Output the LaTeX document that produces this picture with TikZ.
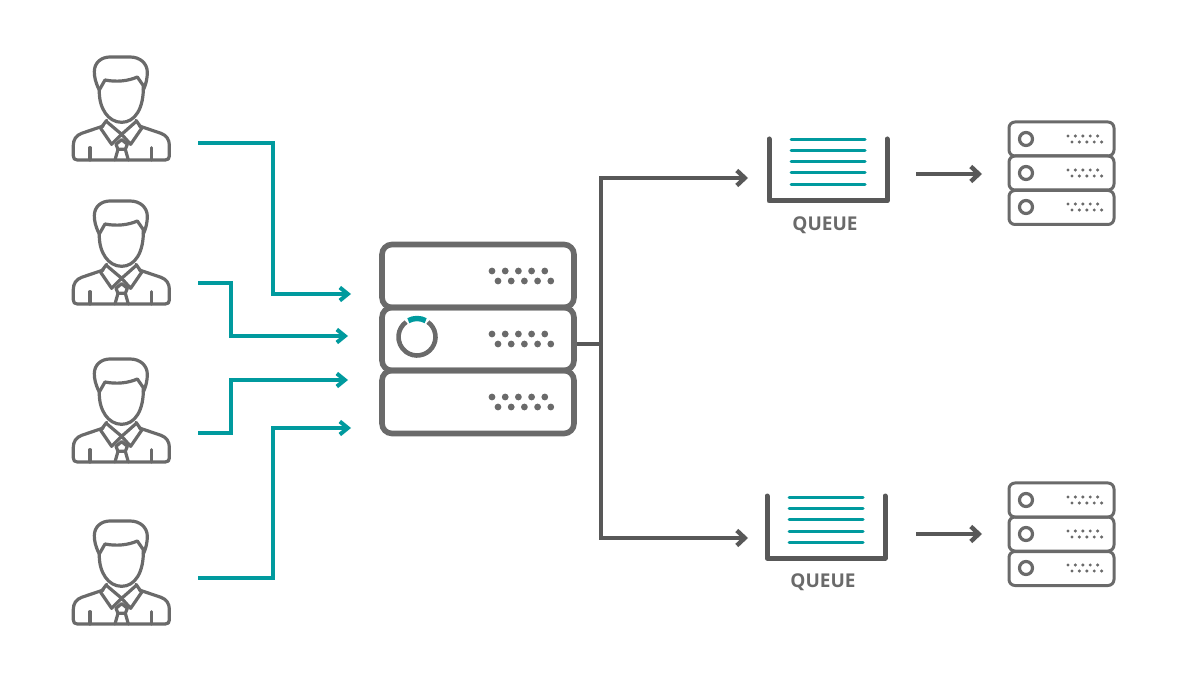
\documentclass[tikz,border=0pt]{standalone}
\usepackage{fontspec}
\setmainfont{Open Sans}
\usetikzlibrary{arrows.meta}
\definecolor{tealline}{HTML}{009A9E}
\definecolor{iconline}{HTML}{6A6A6A}
\definecolor{darkline}{HTML}{585858}
\tikzset{
  flowteal/.style={draw=tealline, line width=4pt, -{Straight Barb[length=8pt,width=13pt,line width=4pt]}},
  flowdark/.style={draw=darkline, line width=4.4pt, -{Straight Barb[length=8pt,width=15pt,line width=4.4pt]}},
  bigrow/.style={draw=iconline, line width=5.6pt, rounded corners=10pt, minimum width=192pt, minimum height=63pt, outer sep=0pt, inner sep=0pt},
  smallrow/.style={draw=iconline, line width=3pt, rounded corners=6pt, minimum width=105pt, minimum height=34pt, outer sep=0pt, inner sep=0pt},
  queuewall/.style={draw=darkline, line width=5pt, line cap=round, line join=round},
  queueitem/.style={draw=tealline, line width=3pt, line cap=round},
  queuetext/.style={text=iconline, font=\bfseries\fontsize{19}{22}\selectfont, inner sep=0pt},
  iconstroke/.style={draw=iconline, line width=3.2pt, line cap=round, line join=round}
}
% one person, drawn in a 3x grid
\newcommand{\personicon}[2]{
\begin{scope}[shift={(#1,#2)}, x=0.3333pt, y=-0.3333pt, iconstroke]
\draw (118,135) .. controls (106,112) and (103,95) .. (103,80) .. controls (103,52) and (125,36) .. (150,36) -- (210,36) .. controls (240,36) and (262,55) .. (262,82) .. controls (262,100) and (258,118) .. (250,135);
\draw (118,135) -- (135,105) .. controls (170,112) and (205,108) .. (232,96) -- (250,122) .. controls (252,190) and (225,232) .. (185,232) .. controls (145,232) and (116,190) .. (118,135);
\draw (130,243) -- (65,265) .. controls (48,271) and (40,285) .. (40,300) -- (40,333) .. controls (40,341) and (44,345) .. (52,345) -- (316,345) .. controls (324,345) and (328,341) .. (328,333) -- (328,300) .. controls (328,285) and (320,271) .. (303,265) -- (238,243);
\draw (140,226) -- (122,250) -- (155,298) -- (185,268) -- (212,298) -- (245,250) -- (228,226);
\draw (140,230) -- (185,268) -- (228,230);
\draw (168,298) -- (185,284) -- (202,298) -- (196,313) -- (174,313) -- cycle;
\draw (174,313) -- (165,345);
\draw (196,313) -- (205,345);
\draw (90,308) -- (90,345);
\draw (275,308) -- (275,345);
\end{scope}
}
% two staggered rows of dots
\newcommand{\bigdots}[1]{
\foreach \k in {0,1,2,3,4} {
  \fill[iconline] (492+13.2*\k,#1) circle (3.4pt);
  \fill[iconline] (498+13.2*\k,#1+10) circle (3.4pt);
}
}
\newcommand{\smalldots}[1]{
\foreach \k in {0,1,2,3,4} {
  \fill[iconline] (1068+7.4*\k,#1-3) circle (1.7pt);
  \fill[iconline] (1072+7.4*\k,#1+3) circle (1.7pt);
}
\draw[iconline, line width=3.2pt] (1026,#1) circle (6.5pt);
}
\begin{document}
\begin{tikzpicture}[x=1pt, y=-1pt]
\useasboundingbox (0,0) rectangle (1200,700);
\personicon{60}{45}
\personicon{60}{189}
\personicon{60}{347}
\personicon{60}{509}
% central server
\node[bigrow] (SrvA) at (478,276) {};
\node[bigrow] (SrvC) at (478,402) {};
\node[bigrow] (SrvB) at (478,339) {};
\bigdots{271}
\bigdots{334}
\bigdots{397}
\draw[iconline, line width=4.6pt] (417,337) ++(-54:18.5) arc (-54:234:18.5);
\draw[tealline, line width=5.4pt] (417,337) ++(-118:18.5) arc (-118:-62:18.5);
% incoming
\coordinate (InA) at (198,143);
\coordinate (InB) at (198,283);
\coordinate (InC) at (198,433);
\coordinate (InD) at (198,578);
\coordinate (ToA) at (351,294);
\coordinate (ToB) at (348,336);
\coordinate (ToC) at (348,380);
\coordinate (ToD) at (351,428);
\draw[flowteal] (InA) -- (273,143) -- (273,294) -- (ToA);
\draw[flowteal] (InB) -- (231,283) -- (231,336) -- (ToB);
\draw[flowteal] (InC) -- (231,433) -- (231,380) -- (ToC);
\draw[flowteal] (InD) -- (273,578) -- (273,428) -- (ToD);
% outgoing
\coordinate (Fork) at (601,344);
\coordinate (QaIn) at (748,178);
\coordinate (QbIn) at (748,538);
\draw[draw=darkline, line width=4.4pt] (577,344) -- (Fork);
\draw[flowdark] (Fork) |- (QaIn);
\draw[flowdark] (Fork) |- (QbIn);
% upper queue
\draw[queuewall] (769,139) -- (769,201) -- (887,201) -- (887,139);
\foreach \y in {140,151,162,173,185} {
  \draw[queueitem] (791,\y) -- (865,\y);
}
\node[queuetext] (QaText) at (825,225) {QUEUE};
% lower queue
\draw[queuewall] (767,496) -- (767,558) -- (885,558) -- (885,496);
\foreach \y in {497,508,519,531,542} {
  \draw[queueitem] (789,\y) -- (863,\y);
}
\node[queuetext] (QbText) at (823,582) {QUEUE};
% upper rack
\node[smallrow] (RackA) at (1061.5,139) {};
\node[smallrow] (RackC) at (1061.5,207.5) {};
\node[smallrow] (RackB) at (1061.5,173) {};
\smalldots{139}
\smalldots{173}
\smalldots{207}
% lower rack
\node[smallrow] (RackD) at (1061.5,500) {};
\node[smallrow] (RackF) at (1061.5,568.5) {};
\node[smallrow] (RackE) at (1061.5,534) {};
\smalldots{500}
\smalldots{534}
\smalldots{568}
\coordinate (QaOut) at (916,174);
\coordinate (RaIn) at (982,174);
\coordinate (QbOut) at (916,534);
\coordinate (RbIn) at (982,534);
\draw[flowdark] (QaOut) -- (RaIn);
\draw[flowdark] (QbOut) -- (RbIn);
\end{tikzpicture}
\end{document}
